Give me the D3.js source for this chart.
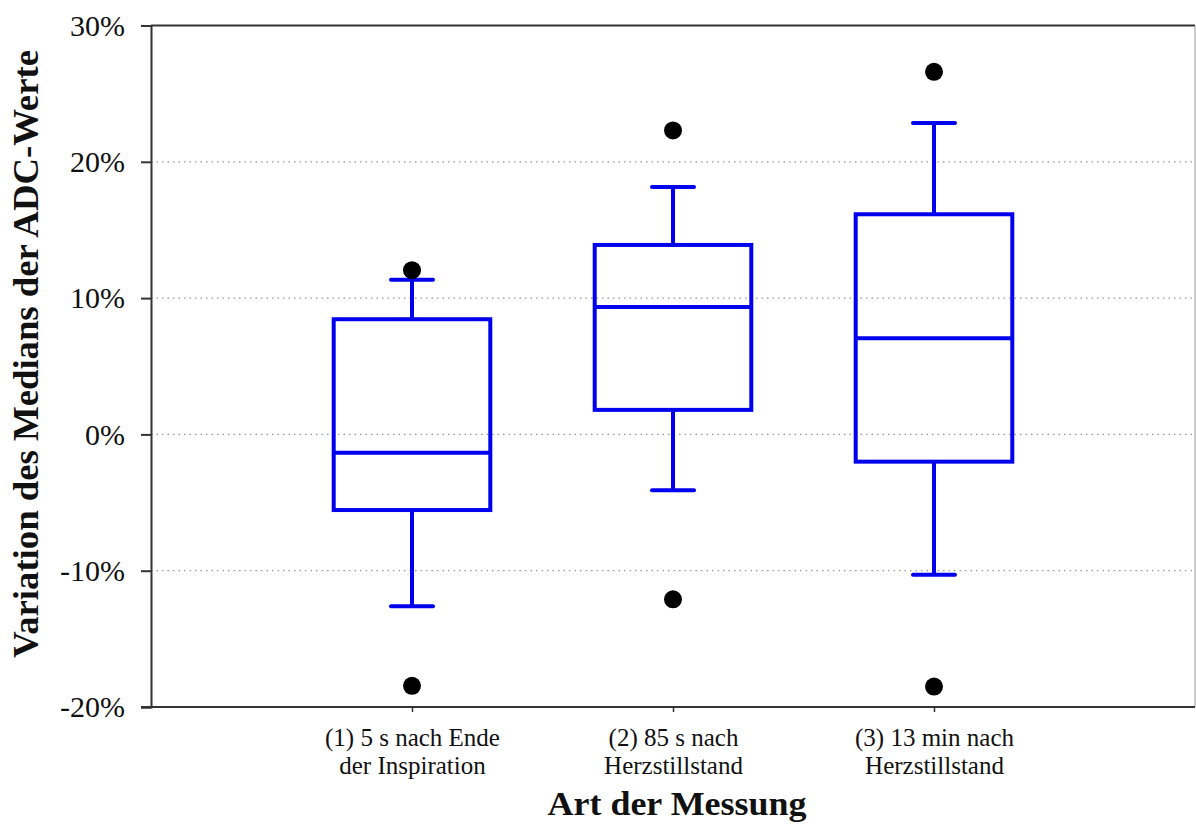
<!DOCTYPE html>
<html>
<head>
<meta charset="utf-8">
<script src="https://cdn.jsdelivr.net/npm/d3@7"></script>
<style>
  body { margin: 0; background: #fff; }
  svg text { font-family: "Liberation Serif", "Times New Roman", serif !important; }
</style>
</head>
<body>
<svg width="1196" height="826"></svg>
<script>
var svg = d3.select("svg"),
    width = +svg.attr("width"),
    height = +svg.attr("height"),
    margin = { top: 25.5, bottom: 119, right: 1, left: 151 },
    serif = "'Liberation Serif', 'Times New Roman', serif";

// categories (two lines each)
var categories = ["(1)", "(2)", "(3)"];
var labelLines = [
  ["(1) 5 s nach Ende", "der Inspiration"],
  ["(2) 85 s nach", "Herzstillstand"],
  ["(3) 13 min nach", "Herzstillstand"]
];
// box statistics in %
var whiskerLow  = [-12.6, -4.1, -10.3];
var q1          = [-5.55, 1.8, -2.0];
var median      = [-1.35, 9.35, 7.05];
var q3          = [8.45, 13.9, 16.15];
var whiskerHigh = [11.35, 18.15, 22.85];
var outliers = [[12.05, -18.45], [22.3, -12.1], [26.6, -18.5]];
var yTicks = [-20, -10, 0, 10, 20, 30];

var innerW = width - margin.left - margin.right,
    innerH = height - margin.top - margin.bottom;

var x = d3.scalePoint()
    .domain(categories)
    .range([margin.left, width - margin.right])
    .padding(1);

var y = d3.scaleLinear()
    .domain([-20, 30])
    .range([height - margin.bottom, margin.top]);

var boxW = x.step() * 0.6,
    capW = 42,
    blue = "#0000ee";

// gridlines
svg.append("g")
  .selectAll("line")
  .data(yTicks.filter(function (d) { return d > -20 && d < 30; }))
  .enter().append("line")
    .attr("x1", margin.left)
    .attr("x2", width - margin.right)
    .attr("y1", function (d) { return y(d); })
    .attr("y2", function (d) { return y(d); })
    .attr("stroke", "#999")
    .attr("stroke-width", 1.2)
    .attr("stroke-dasharray", "1.5,4");

// frame: top + right
svg.append("line")
  .attr("x1", margin.left).attr("x2", width - margin.right)
  .attr("y1", margin.top).attr("y2", margin.top)
  .attr("stroke", "#333").attr("stroke-width", 2);
svg.append("line")
  .attr("x1", width - margin.right).attr("x2", width - margin.right)
  .attr("y1", margin.top).attr("y2", height - margin.bottom)
  .attr("stroke", "#999").attr("stroke-width", 1);

// y axis
var yAxis = svg.append("g")
  .attr("transform", "translate(" + margin.left + ",0)")
  .call(d3.axisLeft(y).tickValues(yTicks).tickFormat(function (d) { return d + "%"; })
    .tickSize(10).tickPadding(16));
yAxis.attr("font-family", null).attr("font-size", null);
yAxis.select(".domain").attr("stroke", "#333").attr("stroke-width", 2);
yAxis.selectAll(".tick line").attr("stroke", "#333").attr("stroke-width", 2);
yAxis.selectAll(".tick text")
  .style("font-family", serif)
  .style("font-size", "30px")
  .attr("fill", "#111");

// x axis
var xAxis = svg.append("g")
  .attr("transform", "translate(0," + (height - margin.bottom) + ")")
  .call(d3.axisBottom(x).tickSize(5).tickFormat(""));
xAxis.attr("font-family", null).attr("font-size", null);
xAxis.select(".domain").attr("stroke", "#333").attr("stroke-width", 2)
  .attr("d", "M" + (margin.left - 10) + ",0H" + (width - margin.right));
xAxis.selectAll(".tick line").attr("stroke", "#333").attr("stroke-width", 1.5);

// two-line category labels, one text per line
xAxis.selectAll(".tick").each(function (d, i) {
  var tick = d3.select(this);
  labelLines[i].forEach(function (line, j) {
    tick.append("text")
      .attr("text-anchor", "middle")
      .attr("x", 0)
      .attr("y", 39 + j * 28)
      .style("font-family", serif)
      .style("font-size", "25px")
      .attr("fill", "#111")
      .text(line);
  });
});

// axis titles
svg.append("text")
  .attr("x", 677)
  .attr("y", 815)
  .attr("text-anchor", "middle")
  .style("font-family", serif)
  .style("font-weight", "bold")
  .style("font-size", "34px")
  .attr("textLength", 259)
  .attr("lengthAdjust", "spacingAndGlyphs")
  .attr("fill", "#111")
  .text("Art der Messung");

svg.append("text")
  .attr("transform", "translate(38,354) rotate(-90)")
  .attr("text-anchor", "middle")
  .style("font-family", serif)
  .style("font-weight", "bold")
  .style("font-size", "35px")
  .attr("textLength", 608)
  .attr("lengthAdjust", "spacingAndGlyphs")
  .attr("fill", "#111")
  .text("Variation des Medians der ADC-Werte");

// boxes
var boxes = svg.append("g")
  .selectAll("g")
  .data(categories)
  .enter().append("g")
    .attr("transform", function (d) { return "translate(" + x(d) + ",0)"; });

boxes.each(function (d, i) {
  var g = d3.select(this);
  // whiskers
  g.append("line")
    .attr("x1", 0).attr("x2", 0)
    .attr("y1", y(whiskerHigh[i])).attr("y2", y(q3[i]))
    .attr("stroke", blue).attr("stroke-width", 4);
  g.append("line")
    .attr("x1", 0).attr("x2", 0)
    .attr("y1", y(q1[i])).attr("y2", y(whiskerLow[i]))
    .attr("stroke", blue).attr("stroke-width", 4);
  [whiskerHigh[i], whiskerLow[i]].forEach(function (v) {
    g.append("line")
      .attr("x1", -capW / 2).attr("x2", capW / 2)
      .attr("y1", y(v)).attr("y2", y(v))
      .attr("stroke", blue).attr("stroke-width", 4)
      .attr("stroke-linecap", "round");
  });
  // box
  g.append("rect")
    .attr("x", -boxW / 2)
    .attr("y", y(q3[i]))
    .attr("width", boxW)
    .attr("height", y(q1[i]) - y(q3[i]))
    .attr("fill", "none")
    .attr("stroke", blue)
    .attr("stroke-width", 4);
  g.append("line")
    .attr("x1", -boxW / 2).attr("x2", boxW / 2)
    .attr("y1", y(median[i])).attr("y2", y(median[i]))
    .attr("stroke", blue).attr("stroke-width", 4);
  // outliers
  g.selectAll("circle")
    .data(outliers[i])
    .enter().append("circle")
      .attr("cx", 0)
      .attr("cy", function (v) { return y(v); })
      .attr("r", 9)
      .attr("fill", "#000");
});
</script>
</body>
</html>
